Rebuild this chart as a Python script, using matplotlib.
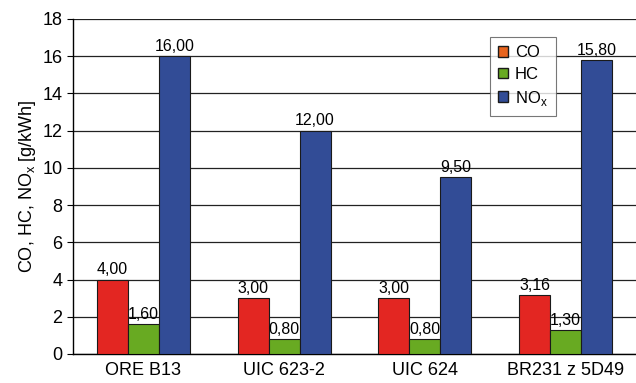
import matplotlib
matplotlib.use("Agg")
import matplotlib.pyplot as plt
from matplotlib.patches import Patch
import numpy as np

plt.rcParams['font.family'] = ['Liberation Sans', 'DejaVu Sans']
plt.rcParams['mathtext.fontset'] = 'custom'
plt.rcParams['mathtext.rm'] = 'Liberation Sans'

# emission limits per standard
standards = ['ORE B13', 'UIC 623-2', 'UIC 624', 'BR231 z 5D49']
co = [4.00, 3.00, 3.00, 3.16]
hc = [1.60, 0.80, 0.80, 1.30]
nox = [16.00, 12.00, 9.50, 15.80]

c_co = '#e32622'
c_hc = '#68aa22'
c_nox = '#324c96'

fig = plt.figure(figsize=(6.36, 3.83), dpi=100)
ax = fig.add_axes([73 / 636, 1 - 354 / 383, 1 - 73 / 636, (354 - 19) / 383])

x = np.arange(len(standards))
w = 0.22
series = [(co, c_co, -w), (hc, c_hc, 0), (nox, c_nox, w)]
for vals, col, off in series:
    bars = ax.bar(x + off, vals, w, color=col, edgecolor='#1a1a1a', linewidth=0.8, zorder=3)
    for b, v in zip(bars, vals):
        ax.text(b.get_x() + b.get_width() / 2, v + 0.12, f'{v:.2f}'.replace('.', ','),
                ha='center', va='bottom', fontsize=11.5, zorder=4)

ax.set_xlim(-0.5, 3.5)
ax.set_ylim(0, 18)
ax.set_yticks(range(0, 19, 2))
ax.set_xticks(x)
ax.set_xticklabels(standards, fontsize=13)
ax.tick_params(axis='y', labelsize=13, length=4, direction='out')
ax.tick_params(axis='x', length=0, pad=6)
ax.grid(axis='y', color='#222222', linewidth=0.9, zorder=0)
for s in ['top', 'right']:
    ax.spines[s].set_visible(False)
ax.spines['left'].set_linewidth(1.0)
ax.spines['bottom'].set_linewidth(1.0)
ax.set_ylabel('CO, HC, NO$_\\mathregular{x}$ [g/kWh]', fontsize=13, labelpad=3)

handles = [Patch(facecolor='#e8641e', edgecolor='#1a1a1a', label='CO'),
           Patch(facecolor=c_hc, edgecolor='#1a1a1a', label='HC'),
           Patch(facecolor=c_nox, edgecolor='#1a1a1a', label='NO$_\\mathregular{x}$')]
leg = ax.legend(handles=handles, loc='upper left', bbox_to_anchor=(417 / 563, 1 - 18 / 335),
                fontsize=12, frameon=True, fancybox=False, edgecolor='#555555',
                handlelength=0.6, handleheight=0.6, handletextpad=0.4, borderpad=0.5,
                labelspacing=0.4, borderaxespad=0)
leg.get_frame().set_linewidth(0.8)
leg.set_zorder(5)

fig.savefig('out.png', dpi=100)
